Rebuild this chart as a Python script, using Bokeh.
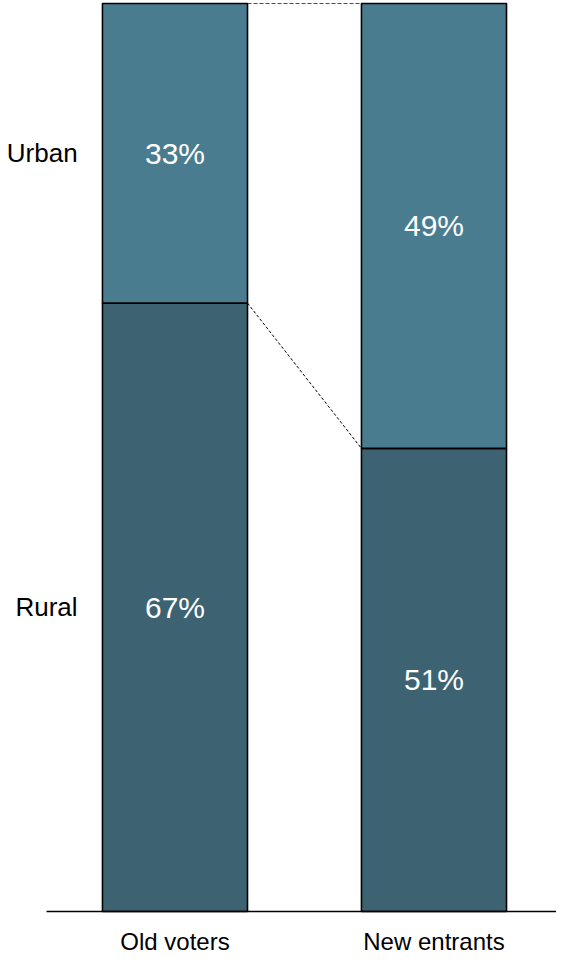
from bokeh.plotting import figure
from bokeh.models import ColumnDataSource, Range1d
from bokeh.core.properties import value
from bokeh.embed import file_html
from bokeh.resources import INLINE

# ---- data ----
categories = ["Old voters", "New entrants"]
segments = ["Rural", "Urban"]
rural = [67, 51]
urban = [33, 49]
colors = {"Rural": "#3d6372", "Urban": "#4a7c8f"}

FONT = value("Liberation Sans")
xs = list(range(len(categories)))
bar_w = 0.56

x_start = -0.6737
x_end = 1.473
p = figure(width=556, height=958, output_backend="svg", toolbar_location=None,
           x_range=Range1d(x_start, x_end), y_range=Range1d(-5.176, 100.33),
           min_border=0, outline_line_color=None)
p.axis.visible = False
p.grid.visible = False
p.background_fill_color = "white"
p.border_fill_color = "white"

totals = [r + u for r, u in zip(rural, urban)]
src = ColumnDataSource(dict(
    x=xs, rural=rural, urban=urban, tot=totals,
    rural_mid=[r / 2 for r in rural],
    urban_mid=[r + u / 2 for r, u in zip(rural, urban)],
    rural_lbl=[f"{r}%" for r in rural],
    urban_lbl=[f"{u}%" for u in urban],
))

p.vbar(x="x", bottom=0, top="rural", width=bar_w, source=src,
       fill_color=colors["Rural"], line_color="black", line_width=1.6)
p.vbar(x="x", bottom="rural", top="tot", width=bar_w, source=src,
       fill_color=colors["Urban"], line_color="black", line_width=1.6)

# connector lines between bars
for i in range(len(xs) - 1):
    x0 = xs[i] + bar_w / 2
    x1 = xs[i + 1] - bar_w / 2
    p.line([x0, x1], [totals[i], totals[i + 1]], line_color="black",
           line_width=1, line_dash="4 2", line_alpha=0.7)
    p.line([x0, x1], [rural[i], rural[i + 1]], line_color="black",
           line_width=1, line_dash="3 2")

# percentage labels
p.text(x="x", y="rural_mid", text="rural_lbl", source=src, text_color="white",
       text_font=FONT, text_font_size="30px", text_align="center",
       text_baseline="middle")
p.text(x="x", y="urban_mid", text="urban_lbl", source=src, text_color="white",
       text_font=FONT, text_font_size="30px", text_align="center",
       text_baseline="middle")

# segment labels on the left
seg_y = [rural[0] / 2, rural[0] + urban[0] / 2]
p.text(x=[xs[0] - bar_w / 2 - 0.096] * 2, y=seg_y, text=segments,
       text_color="black", text_font=FONT, text_font_size="26px",
       text_align="right", text_baseline="middle")

# baseline
p.line([-0.496, x_end], [0, 0], line_color="black", line_width=1.6)

# category labels
p.text(x=xs, y=[-4.75] * len(xs), text=categories, text_color="black",
       text_font=FONT, text_font_size="24px", text_align="center",
       text_baseline="bottom")

open("out.html", "w").write(file_html(p, INLINE))
